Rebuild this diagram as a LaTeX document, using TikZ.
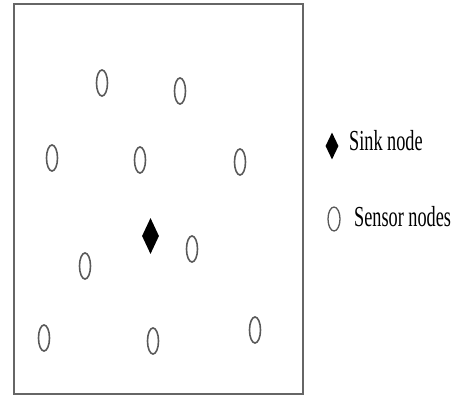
\documentclass[tikz,border=0pt]{standalone}
\usepackage{fontspec}
\setmainfont{Liberation Serif}
\usetikzlibrary{shapes.geometric}
\begin{document}
\begin{tikzpicture}[x=1pt,y=-1pt,
  sensor/.style={ellipse,draw=black!65,line width=1.6pt,inner sep=0pt,minimum width=11pt,minimum height=26pt},
  sink/.style={diamond,fill=black,draw=none,inner sep=0pt,minimum width=17pt,minimum height=36pt},
  legtext/.style={anchor=west,inner sep=0pt,text=black,font=\fontsize{29}{30}\selectfont,xscale=0.63}]
\useasboundingbox (0,0) rectangle (460,396);
\node[draw=black!60,line width=1.4pt,inner sep=0pt,minimum width=289pt,minimum height=390pt] (field) at (158.5,199) {};
\node[sensor] (s1) at (102,83) {};
\node[sensor] (s2) at (180,91) {};
\node[sensor] (s3) at (52,158) {};
\node[sensor] (s4) at (140,160) {};
\node[sensor] (s5) at (240,162) {};
\node[sensor] (s6) at (192,249) {};
\node[sensor] (s7) at (85,266) {};
\node[sensor] (s8) at (44,338) {};
\node[sensor] (s9) at (153,341) {};
\node[sensor] (s10) at (255,330) {};
\node[sink] (sink) at (150.5,236) {};
\node[sink,minimum width=13pt,minimum height=27pt] (legsink) at (332,146) {};
\node[sensor,minimum width=12pt,minimum height=24pt,line width=1.3pt] (legsensor) at (334,219) {};
\node[legtext] (sinklabel) at (349,141) {Sink node};
\node[legtext] (sensorlabel) at (354,217) {Sensor nodes};
\end{tikzpicture}
\end{document}
